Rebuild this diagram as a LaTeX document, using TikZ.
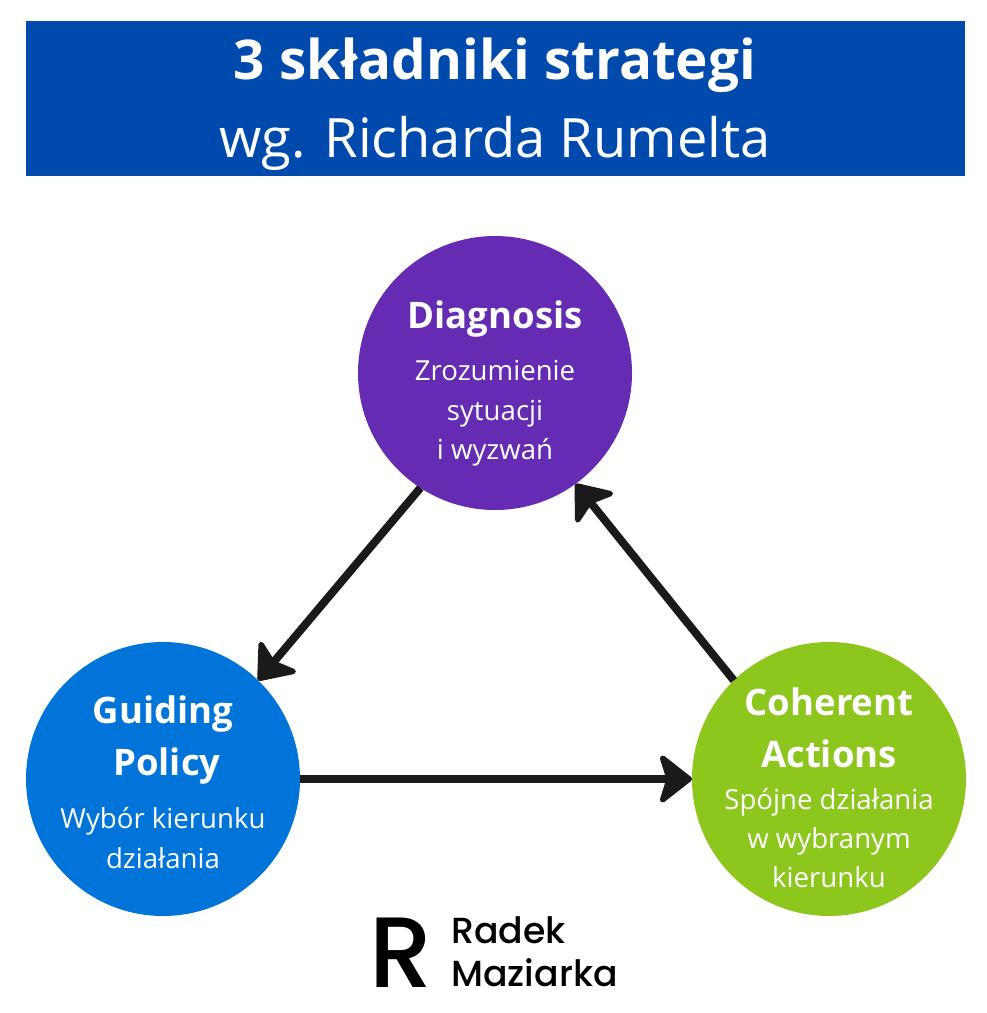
\documentclass[tikz,border=0pt]{standalone}
\usepackage{fontspec}
\setmainfont{Open Sans}
\newfontfamily\logomark{Poppins Medium}
\usetikzlibrary{arrows.meta}
\definecolor{bannerblue}{HTML}{004AAD}
\definecolor{diagpurple}{HTML}{652CB3}
\definecolor{policyblue}{HTML}{0074D9}
\definecolor{actiongreen}{HTML}{8DC71E}
\definecolor{arrowdark}{HTML}{1A1A1A}
\tikzset{
  x=0.75pt,y=-0.75pt,
  stage/.style={circle,minimum size=205.5pt,inner sep=0pt,outer sep=0pt},
  head/.style={text=white,font=\fontsize{27.4}{27.4}\selectfont\bfseries,inner sep=0pt,anchor=base},
  sub/.style={text=white,font=\fontsize{20.7}{20.7}\selectfont,inner sep=0pt,anchor=base},
  flow/.style={draw=arrowdark,line width=6pt,-{Stealth[length=27pt,width=42pt,inset=6.5pt,round,line width=4pt]},shorten >=0pt},
  logotext/.style={font=\logomark\fontsize{27.2}{27.2}\selectfont,inner sep=0pt,anchor=base west},
}
\begin{document}
\begin{tikzpicture}
\useasboundingbox (0,0) rectangle (986,1013);
\fill[bannerblue] (26,21) rectangle (965,176);
\node[text=white,font=\fontsize{41.1}{41.1}\selectfont\bfseries,inner sep=0pt,anchor=base] (t1) at (495,79.5) {3 składniki strategi};
\node[text=white,font=\fontsize{40.7}{40.7}\selectfont,inner sep=0pt,anchor=base] (t2) at (495,157.5) {wg. Richarda Rumelta};
\node[stage,fill=diagpurple] (d) at (495,373) {};
\node[stage,fill=policyblue] (g) at (163,779) {};
\node[stage,fill=actiongreen] (c) at (829,779) {};
\draw[flow] (d.237) -- (g.46.5);
\draw[flow] (g.0) -- (c.180);
\draw[flow] (c.134) -- (d.-54);
\node[head] (d1) at (495,328) {Diagnosis};
\node[sub] (d2) at (495,380) {Zrozumienie};
\node[sub] (d3) at (495,420) {sytuacji};
\node[sub] (d4) at (495,459.5) {i wyzwań};
\node[head] (g1) at (163,723) {Guiding};
\node[head] (g2) at (167,775) {Policy};
\node[sub] (g3) at (163,828) {Wybór kierunku};
\node[sub] (g4) at (163,868) {działania};
\node[head] (c1) at (829,715) {Coherent};
\node[head] (c2) at (829,767) {Actions};
\node[sub] (c3) at (829,809) {Spójne działania};
\node[sub] (c4) at (829,848) {w wybranym};
\node[sub] (c5) at (829,887) {kierunku};
\node[font=\logomark\fontsize{75}{75}\selectfont,inner sep=0pt,anchor=base west] (l0) at (369,987) {R};
\node[logotext] (l1) at (451,943) {Radek};
\node[logotext] (l2) at (451,986) {Maziarka};
\end{tikzpicture}
\end{document}
